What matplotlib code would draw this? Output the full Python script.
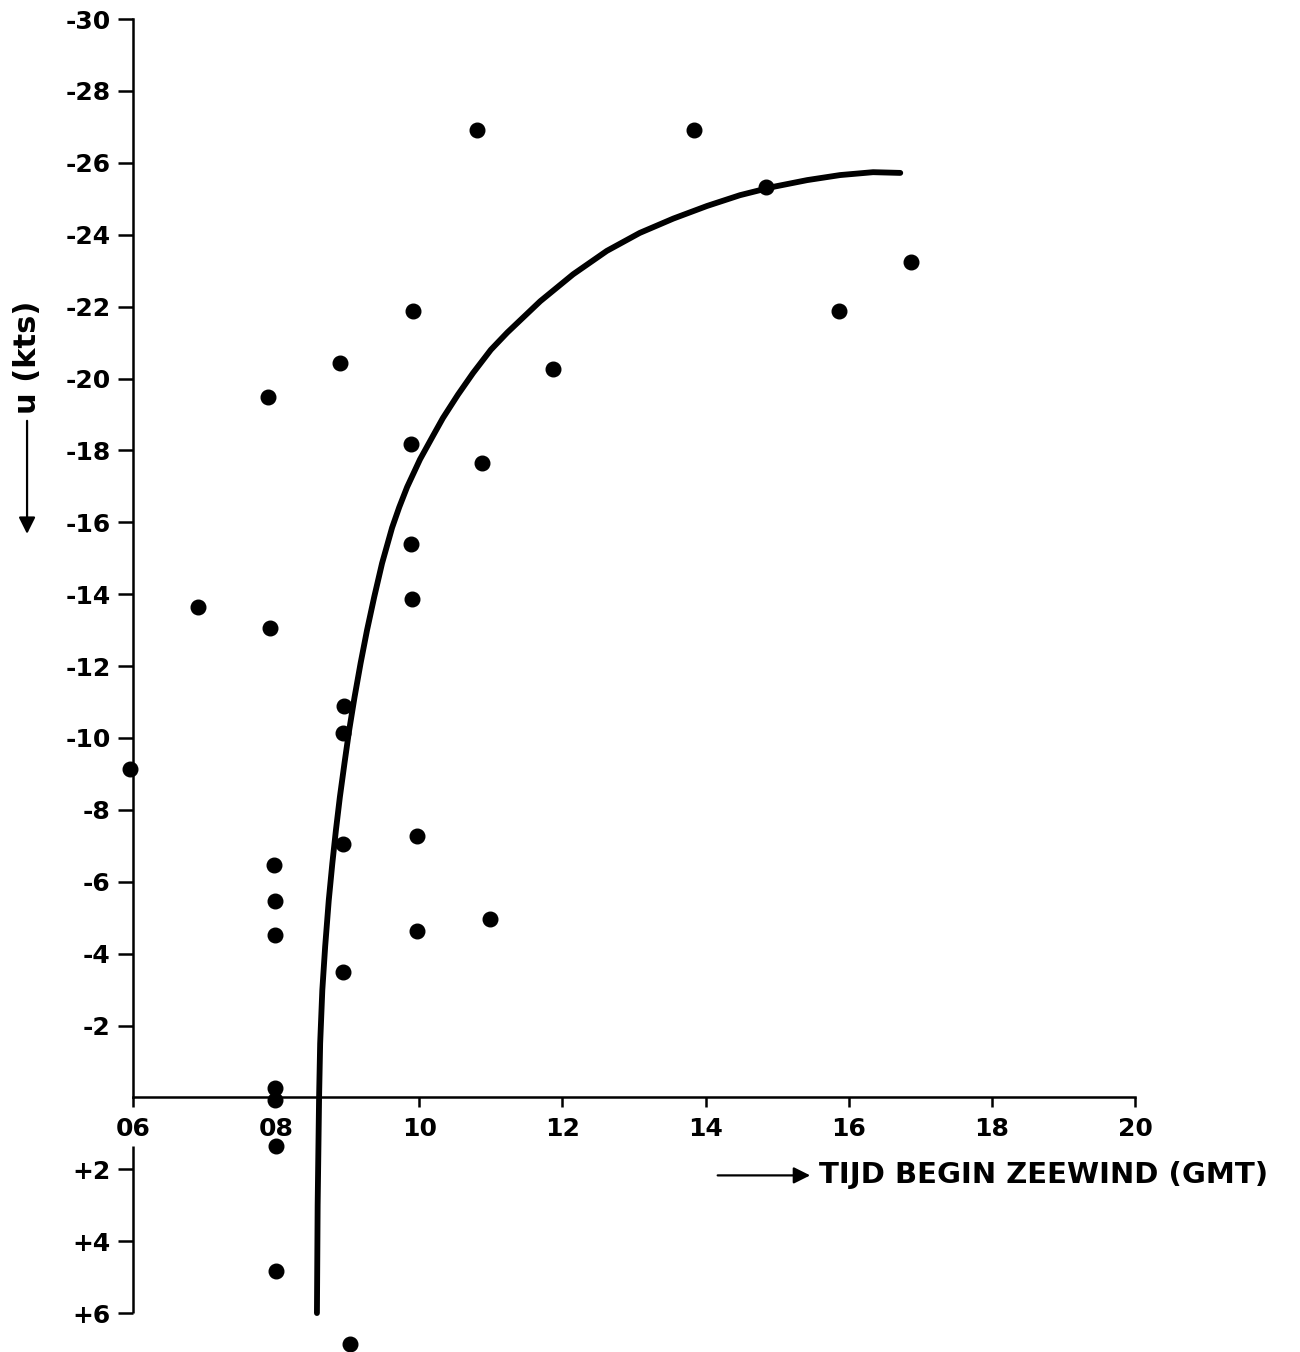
import matplotlib
matplotlib.use('Agg')
import matplotlib.pyplot as plt

# time of sea-breeze onset (hours GMT) and u component (kts)
tijd = [5.96, 6.91, 7.89, 7.91, 7.97, 7.98, 7.98, 7.98, 7.98, 8.0, 8.0,
        8.89, 8.95, 8.93, 8.93, 8.93, 9.03,
        9.91, 9.88, 9.88, 9.90, 9.97, 9.97,
        10.81, 10.88, 10.99, 11.87, 13.84, 14.84, 15.86, 16.87]
u = [-9.13, -13.64, -19.48, -13.05, -6.46, -5.45, -4.51, -0.25, 0.06, 1.36, 4.84,
     -20.43, -10.88, -10.13, -7.04, -3.48, 6.87,
     -21.88, -18.17, -15.39, -13.86, -7.26, -4.62,
     -26.91, -17.65, -4.95, -20.26, -26.91, -25.33, -21.88, -23.24]

curve_x = [8.57, 8.58, 8.60, 8.615, 8.645, 8.685, 8.735, 8.785, 8.835, 8.89, 8.955, 9.02,
           9.095, 9.18, 9.27, 9.37, 9.48, 9.62, 9.72, 9.83, 10.01, 10.19, 10.33, 10.54,
           10.75, 11.0, 11.23, 11.69, 12.15, 12.62, 13.08, 13.55, 14.02, 14.48, 14.94,
           15.42, 15.88, 16.34, 16.72]
curve_u = [6.0, 3.0, 0.0, -1.5, -2.98, -4.2, -5.48, -6.51, -7.43, -8.35, -9.30, -10.21,
           -11.13, -12.08, -13.0, -13.92, -14.86, -15.85, -16.42, -16.98, -17.75, -18.4,
           -18.9, -19.55, -20.15, -20.8, -21.28, -22.15, -22.9, -23.55, -24.05, -24.45,
           -24.8, -25.10, -25.33, -25.52, -25.66, -25.74, -25.72]

yticks = [-30, -28, -26, -24, -22, -20, -18, -16, -14, -12, -10, -8, -6, -4, -2, 2, 4, 6]
ylabels = ['-30', '-28', '-26', '-24', '-22', '-20', '-18', '-16', '-14', '-12', '-10',
           '-8', '-6', '-4', '-2', '+2', '+4', '+6']
xticks = [6, 8, 10, 12, 14, 16, 18, 20]
xlabels = ['06', '08', '10', '12', '14', '16', '18', '20']

fig = plt.figure(figsize=(13, 13.52), dpi=100)
ax = fig.add_axes([0.1023, 0.0288, 0.7708, 0.9571])

ax.plot(curve_x, curve_u, color='black', lw=4.2, solid_capstyle='round',
        solid_joinstyle='round', clip_on=False)
ax.plot(tijd, u, 'o', color='black', markersize=10.5, clip_on=False)

ax.set_xlim(6, 20)
ax.set_ylim(6, -30)

for s in ['top', 'right']:
    ax.spines[s].set_visible(False)
ax.spines['bottom'].set_position(('data', 0))
ax.spines['left'].set_bounds(-30, 0)
ax.spines['left'].set_linewidth(1.8)
ax.spines['bottom'].set_linewidth(1.8)
# lower part of the left axis, broken around the 06 label
ax.plot([6, 6], [1.34, 6], color='black', lw=1.8, clip_on=False, solid_capstyle='butt')

ax.set_yticks(yticks)
ax.set_yticklabels(ylabels, fontweight='bold')
ax.set_xticks(xticks)
ax.set_xticklabels(xlabels, fontweight='bold')
ax.tick_params(axis='y', direction='out', length=11, width=1.8, pad=5, labelsize=18)
ax.tick_params(axis='x', direction='out', length=7, width=1.8, pad=7, labelsize=18)

# axis labels with arrows
ax.annotate('', xy=(15.5, 2.17), xytext=(14.13, 2.17), annotation_clip=False,
            arrowprops=dict(arrowstyle='-|>', color='black', lw=1.6, mutation_scale=25))
ax.text(15.58, 2.17, 'TIJD BEGIN ZEEWIND (GMT)', fontsize=21, fontweight='bold',
        ha='left', va='center', clip_on=False)

ax.text(4.53, -20.6, 'u (kts)', fontsize=22, fontweight='bold', rotation=90,
        ha='center', va='center', clip_on=False)
ax.annotate('', xy=(4.52, -15.6), xytext=(4.52, -18.9), annotation_clip=False,
            arrowprops=dict(arrowstyle='-|>', color='black', lw=1.6, mutation_scale=25))

fig.savefig('out.png', dpi=100)
